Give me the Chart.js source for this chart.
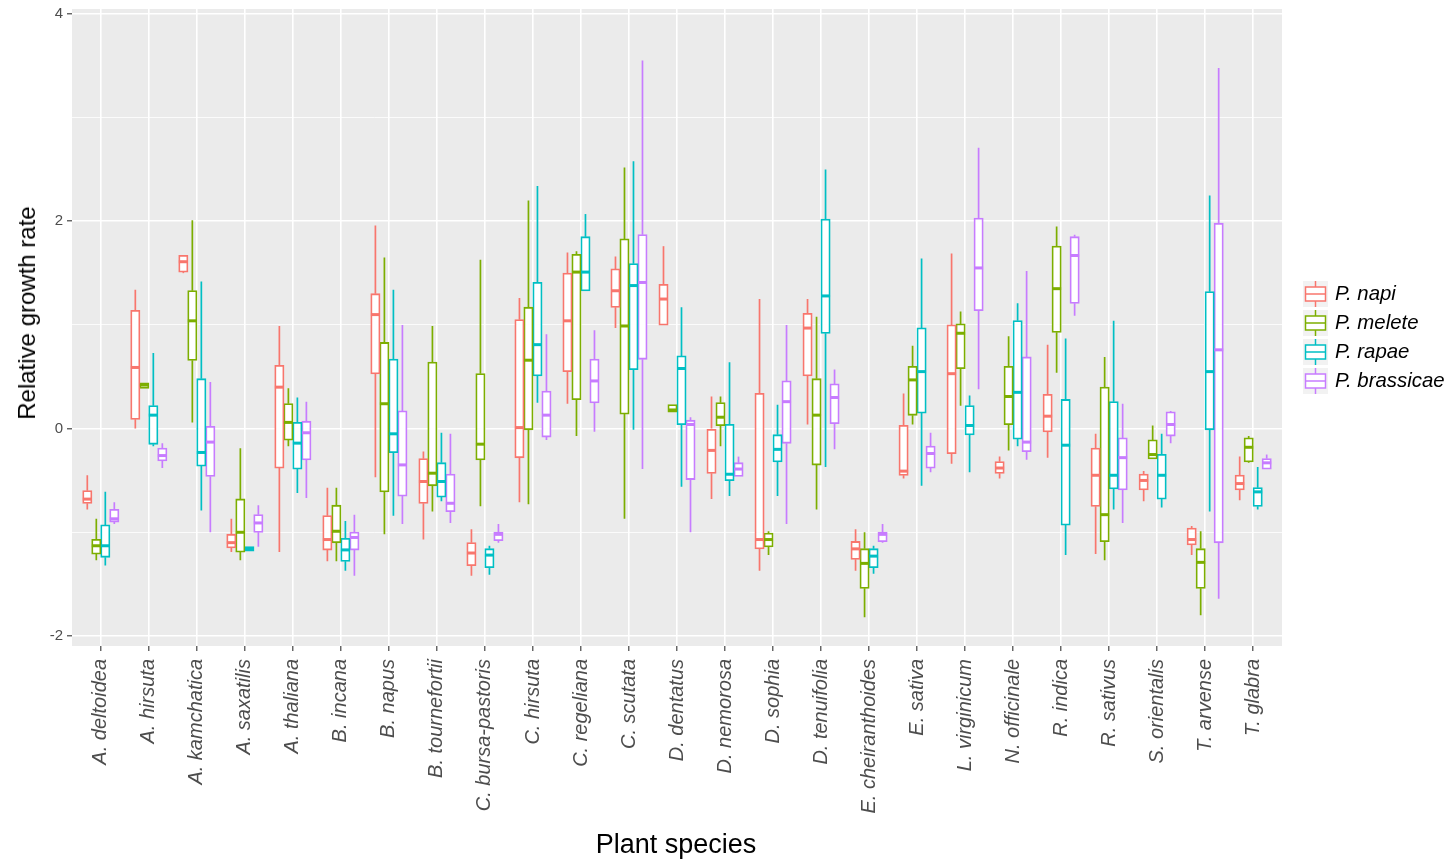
<!DOCTYPE html>
<html>
<head>
<meta charset="utf-8">
<title>Relative growth rate by plant species</title>
<script src="https://cdn.jsdelivr.net/npm/chart.js@4.4.1/dist/chart.umd.min.js"></script>
<style>
    body { margin: 0; background: #fff; font-family: 'Liberation Sans', Arial, sans-serif; }
    #wrap { position: relative; width: 1453px; height: 862px; }
    #wrap canvas { position: absolute; left: 0; top: 0; }
    .axis-title { position: absolute; color: #000; white-space: nowrap; }
    #y-title { left: 27px; top: 313px; font-size: 24px; line-height: 24px; transform: translate(-50%, -50%) rotate(-90deg); }
    #x-title { left: 676px; top: 831px; font-size: 27px; line-height: 27px; transform: translateX(-50%); }
    #legend { position: absolute; left: 1303px; top: 279px; }
    .legend-item { display: flex; align-items: center; height: 29px; }
    .legend-key { width: 25px; height: 26px; background: #F2F2F2; }
    .legend-key svg { display: block; }
    .legend-label { margin-left: 7px; font-size: 20.4px; font-style: italic; color: #000; white-space: nowrap; }
</style>
</head>
<body>
<div id="wrap">
    <canvas id="chart-rgr" width="1453" height="862"></canvas>
    <div class="axis-title" id="y-title">Relative growth rate</div>
    <div class="axis-title" id="x-title">Plant species</div>
    <div id="legend"></div>
</div>
<script>
/* ============================================
   Relative growth rate per plant species, by butterfly
   ============================================ */

const species = [
    'A. deltoidea', 'A. hirsuta', 'A. kamchatica', 'A. saxatilis', 'A. thaliana',
    'B. incana', 'B. napus', 'B. tournefortii', 'C. bursa-pastoris', 'C. hirsuta',
    'C. regeliana', 'C. scutata', 'D. dentatus', 'D. nemorosa', 'D. sophia',
    'D. tenuifolia', 'E. cheiranthoides', 'E. sativa', 'L. virginicum', 'N. officinale',
    'R. indica', 'R. sativus', 'S. orientalis', 'T. arvense', 'T. glabra'
];

// each entry: [lower whisker, Q1, median, Q3, upper whisker]
const napi = [
    [-0.78, -0.72, -0.68, -0.60, -0.45], [0.00, 0.09, 0.59, 1.14, 1.34], [1.50, 1.51, 1.61, 1.67, 1.67],
    [-1.19, -1.15, -1.10, -1.02, -0.87], [-1.19, -0.38, 0.40, 0.61, 0.99], [-1.28, -1.17, -1.07, -0.84, -0.57],
    [-0.47, 0.53, 1.10, 1.30, 1.96], [-1.07, -0.72, -0.51, -0.29, -0.22], [-1.42, -1.32, -1.20, -1.10, -0.97],
    [-0.71, -0.28, 0.01, 1.05, 1.26], [0.24, 0.55, 1.04, 1.50, 1.70], [0.97, 1.17, 1.33, 1.54, 1.66],
    [1.00, 1.00, 1.25, 1.39, 1.76], [-0.68, -0.43, -0.21, 0.00, 0.31], [-1.37, -1.16, -1.07, 0.34, 1.25],
    [0.04, 0.51, 0.97, 1.11, 1.25], [-1.37, -1.26, -1.16, -1.09, -0.97], [-0.48, -0.45, -0.41, 0.03, 0.34],
    [-0.34, -0.24, 0.53, 1.00, 1.69], [-0.48, -0.43, -0.38, -0.32, -0.27], [-0.28, -0.03, 0.12, 0.33, 0.81],
    [-1.21, -0.75, -0.45, -0.19, -0.05], [-0.70, -0.59, -0.50, -0.44, -0.41], [-1.22, -1.12, -1.07, -0.96, -0.94],
    [-0.69, -0.59, -0.53, -0.45, -0.27]
];

const melete = [
    [-1.27, -1.21, -1.13, -1.07, -0.87], [0.39, 0.39, 0.42, 0.44, 0.44], [0.06, 0.66, 1.04, 1.33, 2.01],
    [-1.27, -1.19, -1.00, -0.68, -0.19], [-0.17, -0.11, 0.06, 0.24, 0.39], [-1.28, -1.10, -0.99, -0.74, -0.57],
    [-1.02, -0.61, 0.24, 0.83, 1.65], [-0.80, -0.55, -0.43, 0.64, 0.99], [-0.75, -0.30, -0.15, 0.53, 1.63],
    [-0.73, -0.01, 0.66, 1.17, 2.20], [-0.07, 0.28, 1.51, 1.68, 1.71], [-0.87, 0.14, 0.99, 1.83, 2.52],
    [0.16, 0.16, 0.18, 0.23, 0.23], [-0.17, 0.03, 0.11, 0.25, 0.31], [-1.22, -1.14, -1.07, -1.01, -0.99],
    [-0.78, -0.35, 0.13, 0.48, 1.08], [-1.82, -1.54, -1.30, -1.16, -1.00], [0.04, 0.13, 0.47, 0.60, 0.80],
    [0.22, 0.58, 0.92, 1.01, 1.13], [-0.21, 0.04, 0.31, 0.60, 0.89], [0.54, 0.93, 1.35, 1.76, 1.95],
    [-1.27, -1.09, -0.83, 0.40, 0.69], [-0.29, -0.29, -0.25, -0.11, 0.03], [-1.80, -1.54, -1.29, -1.16, -0.99],
    [-0.33, -0.32, -0.18, -0.09, -0.07]
];

const rapae = [
    [-1.32, -1.24, -1.13, -0.93, -0.61], [-0.17, -0.15, 0.13, 0.22, 0.73], [-0.79, -0.36, -0.23, 0.48, 1.42],
    [-1.18, -1.18, -1.16, -1.14, -1.14], [-0.62, -0.39, -0.14, 0.06, 0.30], [-1.37, -1.28, -1.17, -1.06, -0.89],
    [-0.84, -0.23, -0.05, 0.67, 1.34], [-0.70, -0.66, -0.51, -0.33, -0.04], [-1.41, -1.34, -1.22, -1.16, -1.13],
    [0.25, 0.51, 0.81, 1.41, 2.34], [1.33, 1.33, 1.51, 1.85, 2.07], [-0.01, 0.57, 1.38, 1.59, 2.58],
    [-0.56, 0.04, 0.58, 0.70, 1.17], [-0.65, -0.50, -0.44, 0.04, 0.64], [-0.65, -0.32, -0.20, -0.06, 0.23],
    [-0.37, 0.92, 1.28, 2.02, 2.50], [-1.40, -1.34, -1.23, -1.16, -1.13], [-0.55, 0.15, 0.55, 0.97, 1.64],
    [-0.42, -0.06, 0.03, 0.22, 0.32], [-0.17, -0.10, 0.35, 1.04, 1.21], [-1.22, -0.93, -0.16, 0.28, 0.87],
    [-0.78, -0.58, -0.45, 0.26, 1.04], [-0.76, -0.68, -0.45, -0.25, -0.05], [-0.80, -0.01, 0.55, 1.32, 2.25],
    [-0.78, -0.75, -0.61, -0.57, -0.37]
];

const brassicae = [
    [-0.92, -0.90, -0.87, -0.78, -0.71], [-0.38, -0.31, -0.26, -0.19, -0.14], [-1.00, -0.46, -0.13, 0.02, 0.45],
    [-1.14, -1.00, -0.91, -0.83, -0.74], [-0.67, -0.30, -0.04, 0.07, 0.26], [-1.42, -1.17, -1.05, -1.00, -0.83],
    [-0.92, -0.65, -0.35, 0.17, 1.00], [-0.91, -0.80, -0.72, -0.44, -0.05], [-1.10, -1.08, -1.02, -1.00, -0.92],
    [-0.11, -0.08, 0.13, 0.36, 0.91], [-0.03, 0.25, 0.46, 0.67, 0.95], [-0.39, 0.67, 1.41, 1.87, 3.55],
    [-1.00, -0.49, 0.04, 0.08, 0.11], [-0.46, -0.46, -0.39, -0.33, -0.27], [-0.92, -0.14, 0.26, 0.46, 1.00],
    [-0.20, 0.05, 0.30, 0.43, 0.57], [-1.10, -1.09, -1.02, -1.00, -0.92], [-0.42, -0.38, -0.24, -0.17, -0.04],
    [0.38, 1.14, 1.55, 2.03, 2.71], [-0.30, -0.22, -0.13, 0.69, 1.52], [1.09, 1.21, 1.67, 1.85, 1.87],
    [-0.91, -0.59, -0.28, -0.09, 0.24], [-0.14, -0.07, 0.04, 0.16, 0.17], [-1.64, -1.10, 0.76, 1.98, 3.48],
    [-0.39, -0.39, -0.33, -0.29, -0.25]
];

const seriesNames = ['P. napi', 'P. melete', 'P. rapae', 'P. brassicae'];
const seriesColors = ['#F8766D', '#7CAE00', '#00BFC4', '#C77CFF'];
const seriesBoxes = [napi, melete, rapae, brassicae];

const yTicks = [-2, -1, 0, 1, 2, 3, 4];
const yLabelled = [-2, 0, 2, 4];

const FONT = "'Liberation Sans', Arial, sans-serif";

// grey panel behind the grid
const panelBackground = {
    id: 'panelBackground',
    beforeDraw(chart) {
        const { ctx, chartArea: a } = chart;
        ctx.save();
        ctx.fillStyle = '#EBEBEB';
        ctx.fillRect(a.left, a.top, a.right - a.left, a.bottom - a.top);
        ctx.restore();
    }
};

// whiskers under each box, thick median line on top
const boxWhiskers = {
    id: 'boxWhiskers',
    beforeDatasetsDraw(chart) {
        const { ctx, scales: { y } } = chart;
        ctx.save();
        ctx.lineWidth = 1.7;
        chart.data.datasets.forEach((ds, i) => {
            ctx.strokeStyle = ds.borderColor;
            chart.getDatasetMeta(i).data.forEach((bar, j) => {
                const [lo, q1, , q3, hi] = ds.boxes[j];
                const { x } = bar.getProps(['x'], true);
                ctx.beginPath();
                ctx.moveTo(x, y.getPixelForValue(hi));
                ctx.lineTo(x, y.getPixelForValue(q3));
                ctx.moveTo(x, y.getPixelForValue(q1));
                ctx.lineTo(x, y.getPixelForValue(lo));
                ctx.stroke();
            });
        });
        ctx.restore();
    },
    afterDatasetsDraw(chart) {
        const { ctx, scales: { y } } = chart;
        ctx.save();
        ctx.lineWidth = 3;
        chart.data.datasets.forEach((ds, i) => {
            ctx.strokeStyle = ds.borderColor;
            chart.getDatasetMeta(i).data.forEach((bar, j) => {
                const { x, width } = bar.getProps(['x', 'width'], true);
                const py = y.getPixelForValue(ds.boxes[j][2]);
                ctx.beginPath();
                ctx.moveTo(x - width / 2, py);
                ctx.lineTo(x + width / 2, py);
                ctx.stroke();
            });
        });
        ctx.restore();
    }
};

function renderChart() {
    const ctx = document.getElementById('chart-rgr').getContext('2d');

    const datasets = seriesNames.map((name, k) => ({
        label: name,
        boxes: seriesBoxes[k],
        data: seriesBoxes[k].map((b, i) => ({ x: i, y: [b[1], b[3]] })),
        backgroundColor: '#FFFFFF',
        borderColor: seriesColors[k],
        borderWidth: 1.8,
        borderSkipped: false,
        inflateAmount: 0.5,
        categoryPercentage: 0.75,
        barPercentage: 1.0
    }));

    new Chart(ctx, {
        type: 'bar',
        data: { datasets },
        options: {
            responsive: false,
            animation: false,
            events: [],
            layout: { padding: { top: 9, right: 171, left: 0, bottom: 0 } },
            plugins: {
                legend: { display: false },
                tooltip: { enabled: false }
            },
            scales: {
                x: {
                    type: 'linear',
                    offset: false,
                    min: -0.6,
                    max: species.length - 0.4,
                    afterBuildTicks: s => { s.ticks = species.map((_, i) => ({ value: i })); },
                    afterFit: s => { s.height = 216; s.paddingLeft = 0; s.paddingRight = 0; },
                    border: { display: false },
                    grid: { offset: false, color: '#FFFFFF', lineWidth: 1.6, tickColor: '#333333', tickLength: 5, tickWidth: 1.1 },
                    ticks: {
                        autoSkip: false,
                        minRotation: 90,
                        maxRotation: 90,
                        padding: 8,
                        color: '#4D4D4D',
                        font: { family: FONT, size: 20, style: 'italic' },
                        callback: v => species[v]
                    }
                },
                y: {
                    min: -2.097,
                    max: 4.048,
                    afterBuildTicks: s => { s.ticks = yTicks.map(v => ({ value: v })); },
                    afterFit: s => { s.width = 72; s.paddingTop = 0; s.paddingBottom = 0; },
                    border: { display: false },
                    grid: {
                        color: '#FFFFFF',
                        lineWidth: c => yLabelled.includes(c.tick.value) ? 1.6 : 0.8,
                        tickColor: c => yLabelled.includes(c.tick.value) ? '#333333' : 'rgba(0,0,0,0)',
                        tickLength: 5,
                        tickWidth: 1.1
                    },
                    ticks: {
                        padding: 4,
                        color: '#4D4D4D',
                        font: { family: FONT, size: 15 },
                        callback: v => yLabelled.includes(v) ? String(v) : ''
                    }
                }
            }
        },
        plugins: [panelBackground, boxWhiskers]
    });
}

function renderLegend() {
    const container = document.getElementById('legend');
    container.innerHTML = seriesNames.map((name, k) => `
        <div class="legend-item">
            <div class="legend-key">
                <svg width="25" height="26" viewBox="0 0 25 26">
                    <line x1="12.5" y1="0" x2="12.5" y2="6" stroke="${seriesColors[k]}" stroke-width="1.5"/>
                    <line x1="12.5" y1="20" x2="12.5" y2="26" stroke="${seriesColors[k]}" stroke-width="1.5"/>
                    <rect x="2.5" y="6" width="20" height="14" fill="#FFFFFF" stroke="${seriesColors[k]}" stroke-width="1.5"/>
                    <line x1="2.5" y1="13" x2="22.5" y2="13" stroke="${seriesColors[k]}" stroke-width="1.5"/>
                </svg>
            </div>
            <span class="legend-label">${name}</span>
        </div>`).join('');
}

Chart.defaults.font.family = FONT;
renderChart();
renderLegend();
</script>
</body>
</html>
